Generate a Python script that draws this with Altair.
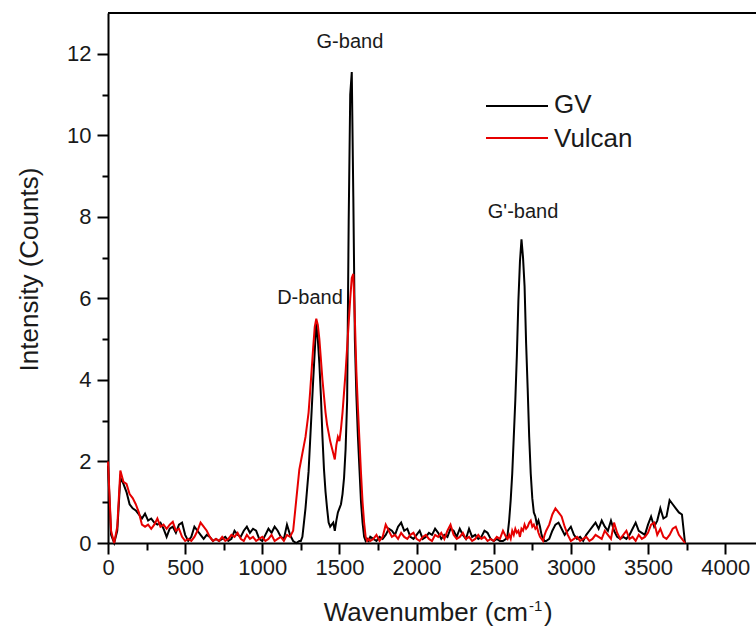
import altair as alt
import pandas as pd

# ---------------- data ----------------
wavenumber = [
    0, 20, 40, 60, 80, 100, 120, 140, 160, 180,
    200, 220, 240, 260, 280, 300, 320, 340, 360, 380,
    400, 420, 440, 460, 480, 500, 520, 540, 560, 580,
    600, 620, 640, 660, 680, 700, 720, 740, 760, 780,
    800, 820, 840, 860, 880, 900, 920, 940, 960, 980,
    1000, 1020, 1040, 1060, 1080, 1100, 1120, 1140, 1160, 1180,
    1200, 1220, 1240,
    1250, 1260, 1270, 1280, 1290, 1300, 1310, 1320, 1330, 1340,
    1350, 1360, 1370, 1380, 1390, 1400, 1410, 1420, 1430, 1440,
    1450, 1460, 1470, 1480, 1490, 1500, 1510, 1520, 1530, 1540,
    1550, 1560, 1570, 1580, 1590, 1600, 1610, 1620, 1630, 1640,
    1650, 1660, 1670, 1680, 1690, 1700,
    1720, 1740, 1760, 1780, 1800, 1820, 1840, 1860, 1880, 1900,
    1920, 1940, 1960, 1980, 2000, 2020, 2040, 2060, 2080, 2100,
    2120, 2140, 2160, 2180, 2200, 2220, 2240, 2260, 2280, 2300,
    2320, 2340, 2360, 2380, 2400, 2420, 2440, 2460, 2480, 2500,
    2520, 2540, 2560, 2580,
    2590, 2600, 2610, 2620, 2630, 2640, 2650, 2660, 2670, 2680,
    2690, 2700, 2710, 2720, 2730, 2740, 2750, 2760, 2770, 2780,
    2790, 2800, 2810, 2820, 2830, 2840,
    2860, 2880, 2900, 2920, 2940, 2960, 2980, 3000, 3020, 3040,
    3060, 3080, 3100, 3120, 3140, 3160, 3180, 3200, 3220, 3240,
    3260, 3280, 3300, 3320, 3340, 3360, 3380, 3400, 3420, 3440,
    3460, 3480, 3500, 3520, 3540, 3560, 3580, 3600, 3620, 3640,
    3660, 3680, 3700, 3720, 3740,
]

gv = [
    1.9, 0.2, 0.0, 0.3, 1.6, 1.45, 1.25, 0.95, 0.85, 0.8,
    0.7, 0.6, 0.72, 0.55, 0.6, 0.5, 0.45, 0.5, 0.35, 0.15,
    0.35, 0.4, 0.25, 0.45, 0.5, 0.2, 0.05, 0.15, 0.4, 0.3,
    0.2, 0.1, 0.2, 0.15, 0.05, 0.1, 0.05, 0.1, 0.15, 0.05,
    0.1, 0.3, 0.2, 0.15, 0.3, 0.4, 0.25, 0.35, 0.3, 0.1,
    0.05, 0.2, 0.35, 0.25, 0.4, 0.3, 0.15, 0.1, 0.45, 0.2,
    0.05, 0.0, 0.05,
    0.05, 0.15, 0.5, 0.85, 1.3, 1.75, 2.5, 3.25, 4.0, 4.7,
    5.4, 5.0, 4.4, 3.6, 2.6, 1.8, 1.25, 0.85, 0.5, 0.4,
    0.45, 0.5, 0.3, 0.55, 0.75, 0.85, 0.95, 1.2, 1.6, 2.3,
    3.5, 7.9, 11.0, 11.55, 8.5, 5.0, 3.6, 2.6, 1.8, 1.0,
    0.5, 0.15, 0.05, 0.1, 0.05, 0.15,
    0.1, 0.05, 0.15, 0.1, 0.2, 0.35, 0.3, 0.2, 0.4, 0.5,
    0.3, 0.35, 0.15, 0.1, 0.2, 0.3, 0.1, 0.15, 0.25, 0.2,
    0.35, 0.25, 0.1, 0.2, 0.15, 0.35, 0.3, 0.15, 0.35, 0.2,
    0.1, 0.35, 0.15, 0.2, 0.1, 0.15, 0.3, 0.25, 0.1, 0.05,
    0.1, 0.05, 0.05, 0.1,
    0.2, 0.55, 1.05, 1.7, 2.6, 3.5, 4.6, 5.95, 6.9, 7.45,
    7.0, 6.3, 4.9, 3.8, 2.6, 1.7, 1.1, 0.75, 0.65, 0.45,
    0.55, 0.4, 0.2, 0.1, 0.05, 0.05,
    0.1, 0.3, 0.45, 0.5, 0.35, 0.2, 0.3, 0.4, 0.2, 0.1,
    0.15, 0.05, 0.2, 0.3, 0.4, 0.5, 0.35, 0.55, 0.4, 0.3,
    0.55, 0.3, 0.15, 0.1, 0.15, 0.1, 0.2, 0.35, 0.5, 0.3,
    0.25, 0.2, 0.45, 0.65, 0.4, 0.55, 0.85, 0.6, 0.65, 1.05,
    0.95, 0.85, 0.75, 0.7, 0.0,
]

vulcan = [
    2.0, 0.3, 0.0, 0.4, 1.78, 1.5, 1.45, 1.2, 1.1, 0.95,
    0.75, 0.45, 0.4, 0.45, 0.35, 0.45, 0.6, 0.4, 0.45, 0.35,
    0.45, 0.52, 0.3, 0.35, 0.15, 0.05, 0.1, 0.05, 0.15, 0.3,
    0.5, 0.4, 0.3, 0.15, 0.05, 0.1, 0.05, 0.15, 0.05, 0.1,
    0.2, 0.15, 0.25, 0.1, 0.05, 0.2, 0.1, 0.15, 0.05, 0.1,
    0.15, 0.05, 0.1, 0.2, 0.05, 0.1, 0.15, 0.05, 0.2, 0.15,
    0.3, 1.05, 1.8,
    2.0, 2.2, 2.4, 2.6, 2.9, 3.2, 3.7, 4.25, 4.8, 5.3,
    5.5, 5.35, 5.0, 4.5, 4.0, 3.6, 3.2, 2.9, 2.7, 2.5,
    2.35, 2.2, 2.05, 2.4, 2.6, 2.5, 2.8, 3.2, 3.7, 4.2,
    4.8, 5.4, 6.0, 6.5, 6.6, 5.5, 4.2, 3.3, 2.5, 1.7,
    1.0, 0.5, 0.15, 0.05, 0.1, 0.05,
    0.1, 0.2, 0.05, 0.15, 0.45, 0.3, 0.15, 0.2, 0.1, 0.25,
    0.15, 0.1, 0.2, 0.25, 0.1, 0.05, 0.15, 0.2, 0.1, 0.05,
    0.2, 0.15, 0.25, 0.1, 0.3, 0.45, 0.2, 0.1, 0.15, 0.25,
    0.1, 0.15, 0.05, 0.1, 0.2, 0.1, 0.15, 0.05, 0.1, 0.05,
    0.15, 0.1, 0.3, 0.15,
    0.1, 0.2, 0.1, 0.3, 0.2, 0.35, 0.25, 0.3, 0.15, 0.35,
    0.3, 0.45, 0.35, 0.4, 0.5, 0.55, 0.4, 0.45, 0.35, 0.4,
    0.25, 0.15, 0.1, 0.05, 0.2, 0.3,
    0.45, 0.7, 0.85, 0.75, 0.65, 0.4, 0.2, 0.05, 0.1, 0.15,
    0.05, 0.1, 0.15, 0.05, 0.1, 0.2, 0.15, 0.1, 0.3, 0.2,
    0.1, 0.5, 0.25, 0.1, 0.2, 0.3, 0.1, 0.15, 0.05, 0.2,
    0.1, 0.15, 0.25, 0.45, 0.5, 0.2, 0.35, 0.15, 0.1, 0.2,
    0.35, 0.4, 0.2, 0.1, 0.0,
]

series_names = ["GV", "Vulcan"]
series_colors = ["#000000", "#e60000"]

band_labels = ["G-band", "D-band", "G'-band"]
band_x = [1568, 1309, 2690]
band_y = [12.3, 6.0, 8.12]

x_ticks = [0, 250, 500, 750, 1000, 1250, 1500, 1750, 2000, 2250, 2500,
           2750, 3000, 3250, 3500, 3750, 4000]
y_ticks = [0, 1, 2, 3, 4, 5, 6, 7, 8, 9, 10, 11, 12]

# ---------------- chart ----------------
W, H = 648, 530
FONT = "Liberation Sans"
TXT = "#1a1a1a"

df_gv = pd.DataFrame({"wn": wavenumber, "val": gv})
df_vu = pd.DataFrame({"wn": wavenumber, "val": vulcan})

xscale = alt.Scale(domain=[0, 4200], nice=False, zero=False)
yscale = alt.Scale(domain=[0, 13], nice=False)

xaxis = alt.Axis(
    values=x_ticks, format="d",
    labelExpr="datum.value % 500 === 0 ? datum.label : ''",
    tickSize={"condition": {"test": "datum.value % 500 === 0", "value": 11}, "value": 7},
    tickWidth=2, tickColor="black", domainColor="black", domainWidth=2,
    labelFont=FONT, labelFontSize=22, labelColor=TXT, labelPadding=3,
    labelOverlap=False, labelFlush=False, grid=False, title=None,
)
yaxis = alt.Axis(
    values=y_ticks, format="d",
    labelExpr="datum.value % 2 === 0 ? datum.label : ''",
    tickSize={"condition": {"test": "datum.value % 2 === 0", "value": 11}, "value": 6},
    tickWidth=2, tickColor="black", domainColor="black", domainWidth=2,
    labelFont=FONT, labelFontSize=22, labelColor=TXT, labelPadding=6,
    labelOverlap=False, labelFlush=False, grid=False,
    title="Intensity (Counts)", titleFont=FONT, titleFontSize=26,
    titleFontWeight="normal", titleColor=TXT, titleAngle=270,
    titleX=-71, titleY=256, titleAlign="center", titleBaseline="alphabetic",
)

line_gv = alt.Chart(df_gv).mark_line(color=series_colors[0], strokeWidth=2).encode(
    x=alt.X("wn:Q", scale=xscale, axis=xaxis),
    y=alt.Y("val:Q", scale=yscale, axis=yaxis),
)
line_vu = alt.Chart(df_vu).mark_line(color=series_colors[1], strokeWidth=2).encode(
    x=alt.X("wn:Q", scale=xscale),
    y=alt.Y("val:Q", scale=yscale),
)

df_bands = pd.DataFrame({"label": band_labels, "x": band_x, "y": band_y})
bands = alt.Chart(df_bands).mark_text(
    font=FONT, fontSize=20, color=TXT, align="center", baseline="middle"
).encode(
    x=alt.X("x:Q", scale=xscale),
    y=alt.Y("y:Q", scale=yscale),
    text="label:N",
)

one = pd.DataFrame({"k": [0]})
top_border = alt.Chart(one).mark_rule(color="black", strokeWidth=2).encode(
    x=alt.value(0), x2=alt.value(W), y=alt.value(0)
)

# legend (drawn manually, Origin style)
leg_gv_line = alt.Chart(one).mark_rule(color=series_colors[0], strokeWidth=2).encode(
    x=alt.value(378), x2=alt.value(440), y=alt.value(93)
)
leg_vu_line = alt.Chart(one).mark_rule(color=series_colors[1], strokeWidth=2).encode(
    x=alt.value(378), x2=alt.value(440), y=alt.value(125)
)
leg_gv_txt = alt.Chart(one).mark_text(
    font=FONT, fontSize=26, color=TXT, align="left", baseline="middle", text=series_names[0]
).encode(x=alt.value(446), y=alt.value(92))
leg_vu_txt = alt.Chart(one).mark_text(
    font=FONT, fontSize=26, color=TXT, align="left", baseline="middle", text=series_names[1]
).encode(x=alt.value(446), y=alt.value(126))

# x-axis title with superscript
xt_main = alt.Chart(one).mark_text(
    font=FONT, fontSize=26, color=TXT, align="right", baseline="alphabetic",
    text="Wavenumber (cm"
).encode(x=alt.value(420), y=alt.value(608))
xt_sup = alt.Chart(one).mark_text(
    font=FONT, fontSize=15, color=TXT, align="left", baseline="alphabetic", text="-1"
).encode(x=alt.value(421), y=alt.value(598))
xt_close = alt.Chart(one).mark_text(
    font=FONT, fontSize=26, color=TXT, align="left", baseline="alphabetic", text=")"
).encode(x=alt.value(436), y=alt.value(608))

chart = alt.layer(
    line_gv, line_vu, bands, top_border,
    leg_gv_line, leg_vu_line, leg_gv_txt, leg_vu_txt,
    xt_main, xt_sup, xt_close,
).properties(
    width=W, height=H,
    autosize=alt.AutoSizeParams(type="none"),
    padding={"left": 108, "top": 13, "right": 0, "bottom": 83},
).configure_view(stroke=None).configure(background="white")

chart.save("out.html", embed_options={"renderer": "svg", "actions": False})
